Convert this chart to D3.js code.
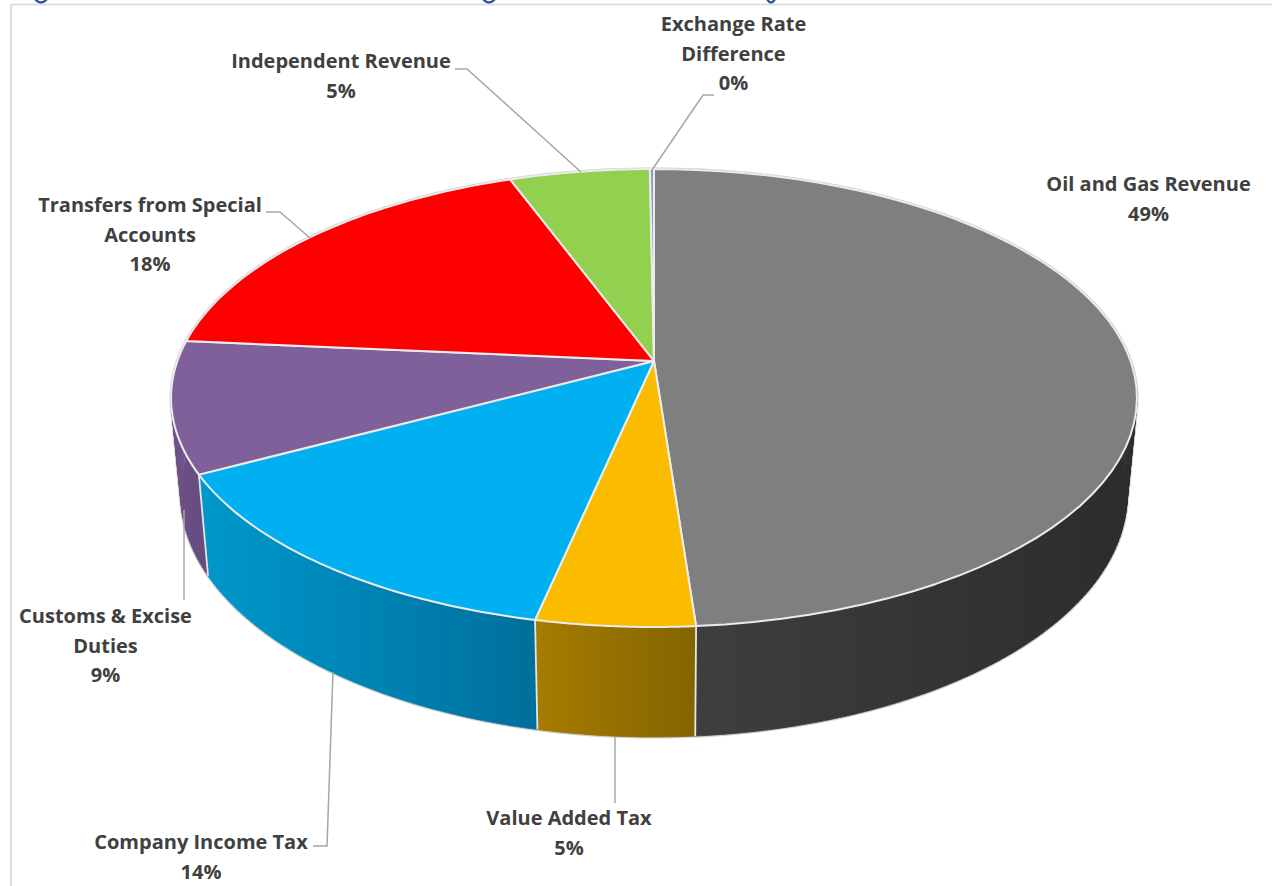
<!DOCTYPE html>
<html><head><meta charset="utf-8">
<script src="https://cdn.jsdelivr.net/npm/d3@7"></script>
<style>html,body{margin:0;padding:0;background:#fff;overflow:hidden}svg{display:block}
text{font-family:"Open Sans",sans-serif;font-weight:700;fill:#404040;font-size:20px}</style>
</head><body><svg id="c" width="1272" height="886"></svg>
<script>
const categories=["Oil and Gas Revenue","Value Added Tax","Company Income Tax","Customs & Excise Duties","Transfers from Special Accounts","Independent Revenue","Exchange Rate Difference"];
const shares=[48.82,4.55,13.83,9.25,17.9,5.49,0.16];
const topColors=["#7f7f7f","#fbbc00","#00b0f0","#80609b","#ff0000","#92d050","#8a9fc0"];
const sideFrom=["#404040","#a67c00","#0098cc","#6e5188","#b00000","#648f36","#5f6e85"];
const sideTo=["#2c2c2c","#836400","#006f9b","#654b7e","#b00000","#648f36","#5f6e85"];
const labelLines=[["Oil and Gas Revenue"],["Value Added Tax"],["Company Income Tax"],["Customs & Excise","Duties"],["Transfers from Special","Accounts"],["Independent Revenue"],["Exchange Rate","Difference"]];

const layout=[
 {x:1148.5,y:184,leader:null},
 {x:569,y:818,leader:[[615,737],[615,803]]},
 {x:201,y:842,leader:[[333,672],[327,846],[313,846]]},
 {x:105.5,y:616,leader:[[184,510],[184,600]]},
 {x:150,y:205,leader:[[310,238],[280,212],[266,212]]},
 {x:341,y:61,leader:[[581,172],[467,69],[455,69]]},
 {x:733.5,y:24,leader:[[652,170],[703,95],[714,95]]}
];
const svg=d3.select("#c"),defs=svg.append("defs");
// bottoms of the cropped-off heading above the frame
[[35,47],[483,495],[767,775]].forEach(([a,b])=>svg.append("path")
  .attr("d",`M${a},-1Q${(a+b)/2},6 ${b},-1`).attr("fill","none").attr("stroke","#2f5597").attr("stroke-width",2.4));
svg.append("rect").attr("x",11).attr("y",4.5).attr("width",1300).attr("height",1000).attr("fill","none").attr("stroke","#d9d9d9").attr("stroke-width",1.6);

// perspective discs fitted to the picture
const k=0.1616;
const topDisc={cx:654,cy:361,R:476.6,A:223};
const botDisc={cx:654,cy:455.6,R:467,A:235.9};
const proj=(d,t)=>{const x=Math.sin(t),y=-Math.cos(t),s=1/(1-k*y);return [d.cx+d.R*x*s,d.cy+d.A*y*s];};
const arcPts=(d,a,b,n=60)=>d3.range(0,n+1).map(i=>proj(d,a+(b-a)*i/n));
const pie=d3.pie().sort(null).value(v=>v)(shares);
const line=d3.line();

// outline around the whole solid
const hull=d3.polygonHull([...arcPts(topDisc,0,2*Math.PI,240),...arcPts(botDisc,0,2*Math.PI,240)]);
svg.append("path").attr("d",line(hull)+"Z").attr("fill","#fff").attr("stroke","#d0d0d0").attr("stroke-width",3.2).attr("stroke-linejoin","round");

// side wall: union of thin quads, one sub-path per step
const sides=svg.append("g");
pie.forEach((p,i)=>{
  const n=Math.max(2,Math.ceil((p.endAngle-p.startAngle)*60));
  const t=arcPts(topDisc,p.startAngle,p.endAngle,n),u=arcPts(botDisc,p.startAngle,p.endAngle,n);
  const xs=[...t,...u].map(q=>q[0]);
  const id="g"+i;
  const g=defs.append("linearGradient").attr("id",id).attr("gradientUnits","userSpaceOnUse")
    .attr("x1",d3.min(xs)).attr("x2",d3.max(xs)).attr("y1",0).attr("y2",0);
  g.append("stop").attr("offset",0).attr("stop-color",sideFrom[i]);
  g.append("stop").attr("offset",1).attr("stop-color",sideTo[i]);
  const d=d3.range(n).map(j=>line([t[j],t[j+1],u[j+1],u[j]])+"Z").join("");
  sides.append("path").attr("d",d).attr("fill","url(#"+id+")").attr("stroke","url(#"+id+")").attr("stroke-width",0.8);
});
pie.forEach(p=>{
  sides.append("path").attr("d",line([proj(topDisc,p.startAngle),proj(botDisc,p.startAngle)]))
    .attr("stroke","#e6e6e6").attr("stroke-width",1.8).attr("fill","none");
});
const tops=svg.append("g");
pie.forEach((p,i)=>{
  tops.append("path").attr("d",line([[topDisc.cx,topDisc.cy],...arcPts(topDisc,p.startAngle,p.endAngle)])+"Z")
    .attr("fill",topColors[i]).attr("stroke","#ececec").attr("stroke-width",2).attr("stroke-linejoin","round");
});
layout.forEach((l,i)=>{
  if(l.leader) svg.append("path").attr("d",line(l.leader)).attr("fill","none").attr("stroke","#a6a6a6").attr("stroke-width",1.5);
  const lines=[...labelLines[i],Math.round(shares[i])+"%"];
  const t=svg.append("text").attr("text-anchor","middle");
  lines.forEach((s,j)=>t.append("tspan").attr("x",l.x).attr("y",l.y+7+j*29.7).text(s));
});
</script></body></html>
